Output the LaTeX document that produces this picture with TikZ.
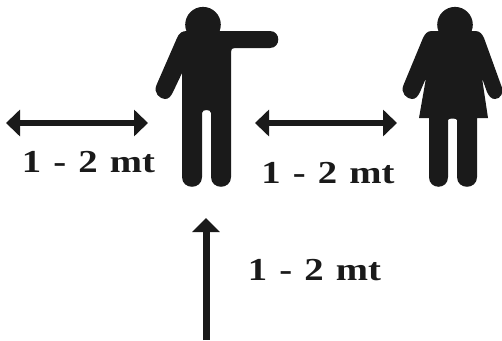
\documentclass[tikz,border=0pt]{standalone}
\usepackage{fontspec}
\setmainfont{Liberation Serif}
\newfontfamily\labfont[WordSpace=1.25]{Liberation Serif}
\usetikzlibrary{arrows.meta}
\definecolor{ink}{HTML}{1A1A1A}
\tikzset{
  figure/.style={fill=ink,draw=none},
  dimarrow/.style={draw=ink,line width=6pt,{Triangle[length=14pt,width=26pt]}-{Triangle[length=14pt,width=26pt]}},
  uparrow/.style={draw=ink,line width=7pt,-{Triangle[length=14pt,width=27pt]}},
  dimlabel/.style={text=ink,font=\fontsize{32}{32}\labfont\bfseries,xscale=1.21,transform shape,inner sep=0pt,anchor=base}
}
\begin{document}
\begin{tikzpicture}[x=1pt,y=-1pt]
\useasboundingbox (0,0) rectangle (502,340);
\fill[white] (0,0) rectangle (502,340);
% man
\fill[figure] (203,24.7) circle (17.8);
\path[figure] (187,31)
  .. controls (182,31) and (179,33) .. (177,38)
  -- (156.5,85)
  .. controls (153,93) and (160,99) .. (165,99)
  .. controls (169,99) and (171,96) .. (173,92)
  -- (182,73) -- (182,177)
  .. controls (182,190) and (202,190) .. (202,177)
  -- (202,113) .. controls (202,109) and (211,109) .. (211,113)
  -- (211,177)
  .. controls (211,190) and (231,190) .. (231,177)
  -- (231,52) .. controls (231,49) and (232,48) .. (235,48)
  -- (270,48) .. controls (281,48) and (281,31) .. (270,31)
  -- cycle;
% woman
\fill[figure] (455,24.7) circle (17.8);
\path[figure] (432,31)
  .. controls (427,31) and (425,34) .. (423,38)
  -- (403.5,85)
  .. controls (400,93) and (407,99) .. (412,99)
  .. controls (416,99) and (418,96) .. (420,92)
  -- (426,78) -- (419,118) -- (429,118) -- (429,177)
  .. controls (429,190) and (448,190) .. (448,177)
  -- (448,120) .. controls (448,118) and (457,118) .. (457,120) -- (457,177)
  .. controls (457,190) and (477,190) .. (477,177)
  -- (477,118) -- (488,118) -- (482,78) -- (487,92)
  .. controls (489,96) and (491,99) .. (495,99)
  .. controls (500,99) and (505,93) .. (501,85)
  -- (484,38)
  .. controls (482,34) and (480,31) .. (475,31)
  -- cycle;
% arrows
\coordinate (aL) at (6,123); \coordinate (aR) at (148,123);
\coordinate (bL) at (255,123); \coordinate (bR) at (397,123);
\coordinate (cB) at (206,340); \coordinate (cT) at (206,218);
\draw[dimarrow] (aL) -- (aR);
\draw[dimarrow] (bL) -- (bR);
\draw[uparrow] (cB) -- (cT);
% labels
\node[dimlabel] (t1) at (88.5,172) {1 - 2 mt};
\node[dimlabel] (t2) at (328,183) {1 - 2 mt};
\node[dimlabel] (t3) at (314.5,280) {1 - 2 mt};
\end{tikzpicture}
\end{document}
